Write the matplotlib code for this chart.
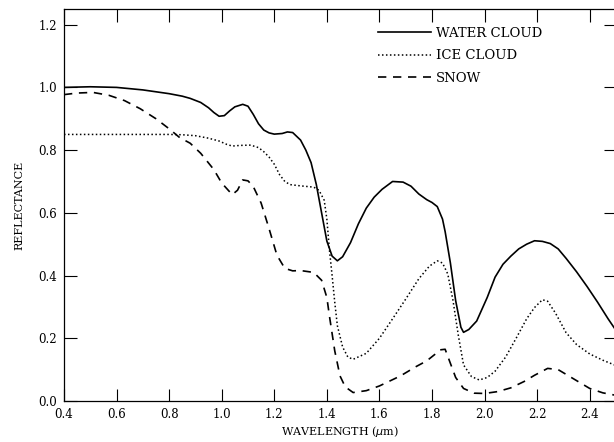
import numpy as np
import matplotlib.pyplot as plt

# water cloud (solid line)
water_x = [0.40, 0.50, 0.60, 0.70, 0.80, 0.85, 0.88, 0.92, 0.95, 0.97, 0.99, 1.01, 1.03, 1.05,
           1.08, 1.10, 1.12, 1.14, 1.16, 1.18, 1.20, 1.23, 1.25, 1.27, 1.30, 1.32, 1.34, 1.36, 1.38,
           1.40, 1.42, 1.44, 1.46, 1.49, 1.52, 1.55, 1.58, 1.61, 1.65, 1.69, 1.72, 1.75, 1.78,
           1.80, 1.82, 1.84, 1.85, 1.87, 1.89, 1.91, 1.92, 1.94, 1.97, 2.01, 2.04, 2.07, 2.10,
           2.13, 2.16, 2.19, 2.22, 2.25, 2.28, 2.31, 2.35, 2.39, 2.43, 2.47, 2.50]
water_y = [1.000, 1.002, 1.000, 0.992, 0.980, 0.972, 0.965, 0.952, 0.935, 0.920, 0.908, 0.910, 0.925, 0.938,
           0.946, 0.940, 0.914, 0.884, 0.864, 0.855, 0.851, 0.853, 0.858, 0.856, 0.832, 0.800, 0.760, 0.690, 0.600,
           0.510, 0.462, 0.447, 0.460, 0.505, 0.565, 0.615, 0.650, 0.675, 0.700, 0.698, 0.685, 0.660, 0.642,
           0.633, 0.620, 0.580, 0.540, 0.440, 0.320, 0.235, 0.219, 0.228, 0.255, 0.330, 0.395, 0.436, 0.462,
           0.485, 0.500, 0.511, 0.509, 0.502, 0.485, 0.455, 0.412, 0.365, 0.315, 0.262, 0.225]

# ice cloud (dotted line)
ice_x = [0.40, 0.60, 0.80, 0.85, 0.90, 0.95, 0.99, 1.02, 1.04, 1.07, 1.11, 1.14, 1.16, 1.18,
         1.20, 1.22, 1.24, 1.26, 1.30, 1.35, 1.37, 1.39, 1.40, 1.41, 1.42, 1.43, 1.44, 1.46,
         1.48, 1.50, 1.55, 1.60, 1.65, 1.70, 1.75, 1.79, 1.82, 1.84, 1.86, 1.88, 1.90, 1.92,
         1.95, 1.98, 2.01, 2.04, 2.08, 2.12, 2.16, 2.19, 2.22, 2.24, 2.27, 2.31, 2.35, 2.40,
         2.45, 2.50]
ice_y = [0.850, 0.850, 0.850, 0.849, 0.846, 0.838, 0.829, 0.818, 0.813, 0.815, 0.816, 0.808, 0.795, 0.778,
         0.755, 0.722, 0.700, 0.690, 0.686, 0.682, 0.672, 0.640, 0.580, 0.480, 0.400, 0.315, 0.240, 0.172,
         0.140, 0.133, 0.152, 0.200, 0.262, 0.325, 0.390, 0.430, 0.447, 0.440, 0.405, 0.320, 0.210, 0.115,
         0.078, 0.067, 0.075, 0.095, 0.140, 0.200, 0.262, 0.298, 0.323, 0.318, 0.280, 0.218, 0.180, 0.150,
         0.130, 0.113]

# snow (dashed line)
snow_x = [0.40, 0.45, 0.51, 0.57, 0.63, 0.69, 0.75, 0.80, 0.84, 0.88, 0.92, 0.97, 1.00, 1.04,
          1.06, 1.08, 1.10, 1.12, 1.15, 1.18, 1.21, 1.24, 1.27, 1.30, 1.35, 1.38, 1.40, 1.41,
          1.42, 1.43, 1.45, 1.47, 1.50, 1.55, 1.60, 1.68, 1.74, 1.78, 1.81, 1.83, 1.85, 1.87,
          1.89, 1.92, 1.96, 2.00, 2.05, 2.10, 2.15, 2.19, 2.24, 2.28, 2.32, 2.36, 2.40, 2.45,
          2.50]
snow_y = [0.977, 0.982, 0.984, 0.975, 0.958, 0.932, 0.900, 0.868, 0.840, 0.822, 0.790, 0.738, 0.695, 0.658,
          0.672, 0.705, 0.702, 0.684, 0.631, 0.550, 0.465, 0.423, 0.415, 0.416, 0.410, 0.385, 0.330, 0.270,
          0.215, 0.160, 0.080, 0.045, 0.027, 0.033, 0.048, 0.080, 0.110, 0.128, 0.148, 0.163, 0.165, 0.120,
          0.075, 0.040, 0.025, 0.024, 0.030, 0.042, 0.062, 0.082, 0.104, 0.100, 0.080, 0.060, 0.040, 0.026,
          0.018]

x_ticks = [0.4, 0.6, 0.8, 1.0, 1.2, 1.4, 1.6, 1.8, 2.0, 2.2, 2.4]
y_ticks = [0.0, 0.2, 0.4, 0.6, 0.8, 1.0, 1.2]

plt.rcParams['font.family'] = 'DejaVu Serif'

fig = plt.figure(figsize=(6.14, 4.42), dpi=100)
ax = fig.add_axes([64/614, 41/442, 552/614, 392/442])

ax.plot(water_x, water_y, color='black', linewidth=1.2, label='WATER CLOUD')
ax.plot(ice_x, ice_y, color='black', linewidth=1.1, linestyle=(0, (1, 1.6)), label='ICE CLOUD')
ax.plot(snow_x, snow_y, color='black', linewidth=1.2, linestyle=(0, (5, 4)), label='SNOW')

ax.set_xlim(0.4, 2.5)
ax.set_ylim(0.0, 1.25)
ax.set_xticks(x_ticks)
ax.set_yticks(y_ticks)
ax.set_xticklabels(['%.1f' % v for v in x_ticks])
ax.set_yticklabels(['%.1f' % v for v in y_ticks])
ax.tick_params(direction='in', length=9, width=0.8, top=True, right=True, labelsize=8.5, pad=5)
for s in ax.spines.values():
    s.set_linewidth(0.9)

ax.set_xlabel(r'WAVELENGTH ($\mu$m)', fontsize=8, labelpad=2)
ax.set_ylabel('REFLECTANCE', fontsize=8, labelpad=10)

ax.legend(loc='upper left', bbox_to_anchor=(0.569, 0.954), frameon=False, fontsize=9.5,
          handlelength=4.0, handletextpad=0.4, labelspacing=0.7, borderpad=0, borderaxespad=0)

fig.savefig('out.png', dpi=100)
